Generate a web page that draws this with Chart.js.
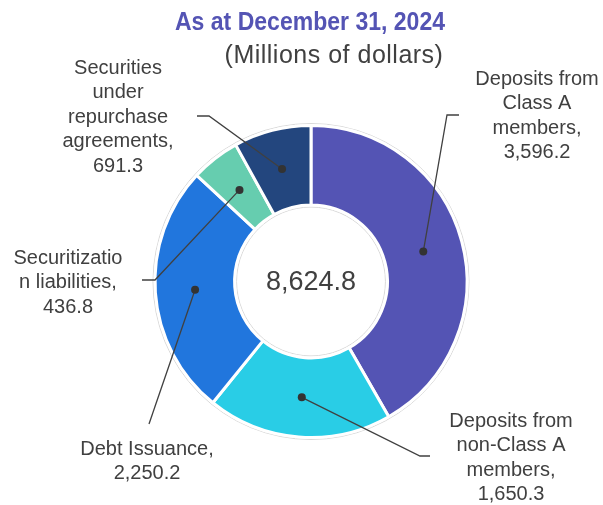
<!DOCTYPE html>
<html>
<head>
<meta charset="utf-8">
<script src="https://cdn.jsdelivr.net/npm/chart.js@4"></script>
<style>
  html, body { margin: 0; padding: 0; background: #fff; }
  #wrap { width: 603px; height: 505px; position: relative; }
</style>
</head>
<body>
<div id="wrap"><canvas id="fundingChart"></canvas></div>
<script>
// Dados do gráfico
var categories = [
  'Deposits from Class A members',
  'Deposits from non-Class A members',
  'Debt Issuance',
  'Securitization liabilities',
  'Securities under repurchase agreements'
];
var amounts = [3596.2, 1650.3, 2250.2, 436.8, 691.3];
var sliceColors = ['#5454B4', '#29CDE6', '#2176DD', '#66CDAF', '#23467E'];
// quebras de linha dos rótulos, como no original
var labelLines = [
  ['Deposits from', 'Class A', 'members'],
  ['Deposits from', 'non-Class A', 'members'],
  ['Debt Issuance'],
  ['Securitizatio', 'n liabilities'],
  ['Securities', 'under', 'repurchase', 'agreements']
];
var titleText = 'As at December 31, 2024';
var subtitleText = '(Millions of dollars)';

var FONT = '"Liberation Sans", Arial, sans-serif';
var TEXT_COLOR = '#404040';

function fmt(v) {
  return v.toLocaleString('en-US', { minimumFractionDigits: 1, maximumFractionDigits: 1 });
}

// posição de cada rótulo e do cotovelo da linha guia
var labelLayout = [
  { x: 537, y: 79, path: [[447, 115], [459, 115]] },
  { x: 511, y: 421, path: [[420, 456], [430, 456]] },
  { x: 147, y: 449, path: [[149, 424]] },
  { x: 68, y: 258, path: [[155, 280], [142, 280]] },
  { x: 118, y: 68, path: [[209, 116], [197, 116]] }
];

var calloutPlugin = {
  id: 'callouts',
  beforeDatasetsDraw: function (chart) {
    var ctx = chart.ctx;
    var arc = chart.getDatasetMeta(0).data[0];
    if (!arc) return;
    ctx.save();
    ctx.strokeStyle = '#D9D9D9';
    ctx.lineWidth = 1;
    ctx.beginPath();
    ctx.arc(arc.x, arc.y, arc.outerRadius + 2, 0, Math.PI * 2);
    ctx.stroke();
    ctx.beginPath();
    ctx.arc(arc.x, arc.y, arc.innerRadius - 2, 0, Math.PI * 2);
    ctx.stroke();
    ctx.restore();
  },
  afterDraw: function (chart) {
    var ctx = chart.ctx;
    var meta = chart.getDatasetMeta(0);
    ctx.save();

    // título
    ctx.textAlign = 'center';
    ctx.textBaseline = 'middle';
    ctx.fillStyle = '#5454B4';
    ctx.font = 'bold 26px ' + FONT;
    ctx.fillText(titleText, 310, 23, 270);
    ctx.fillStyle = TEXT_COLOR;
    ctx.font = '25px ' + FONT;
    ctx.letterSpacing = '0.5px';
    ctx.fillText(subtitleText, 334, 56);
    ctx.letterSpacing = '0px';

    // total no centro
    var total = amounts.reduce(function (a, b) { return a + b; }, 0);
    var first = meta.data[0];
    ctx.font = '27px ' + FONT;
    ctx.fillText(fmt(total), first.x, first.y + 1);

    // linhas guia e rótulos
    meta.data.forEach(function (el, i) {
      var p = el.getCenterPoint();
      var lay = labelLayout[i];
      ctx.strokeStyle = '#404040';
      ctx.lineWidth = 1.3;
      ctx.beginPath();
      ctx.moveTo(p.x, p.y);
      lay.path.forEach(function (pt) { ctx.lineTo(pt[0], pt[1]); });
      ctx.stroke();
      ctx.fillStyle = '#333333';
      ctx.beginPath();
      ctx.arc(p.x, p.y, 4, 0, Math.PI * 2);
      ctx.fill();

      var lines = labelLines[i].slice();
      lines[lines.length - 1] += ',';
      lines.push(fmt(amounts[i]));
      ctx.fillStyle = TEXT_COLOR;
      ctx.font = '20px ' + FONT;
      lines.forEach(function (t, k) {
        ctx.fillText(t, lay.x, lay.y + k * 24.5);
      });
    });
    ctx.restore();
  }
};

document.addEventListener('DOMContentLoaded', function () {
  var ctx = document.getElementById('fundingChart').getContext('2d');
  new Chart(ctx, {
    type: 'doughnut',
    data: {
      labels: categories,
      datasets: [{
        data: amounts,
        backgroundColor: sliceColors,
        borderColor: '#ffffff',
        borderWidth: 3
      }]
    },
    options: {
      responsive: true,
      maintainAspectRatio: false,
      animation: false,
      cutout: '49%',
      layout: { padding: { top: 124, bottom: 66, left: 153.5, right: 134.5 } },
      plugins: {
        legend: { display: false },
        tooltip: { enabled: false },
        title: { display: false }
      }
    },
    plugins: [calloutPlugin]
  });
});
</script>
</body>
</html>
